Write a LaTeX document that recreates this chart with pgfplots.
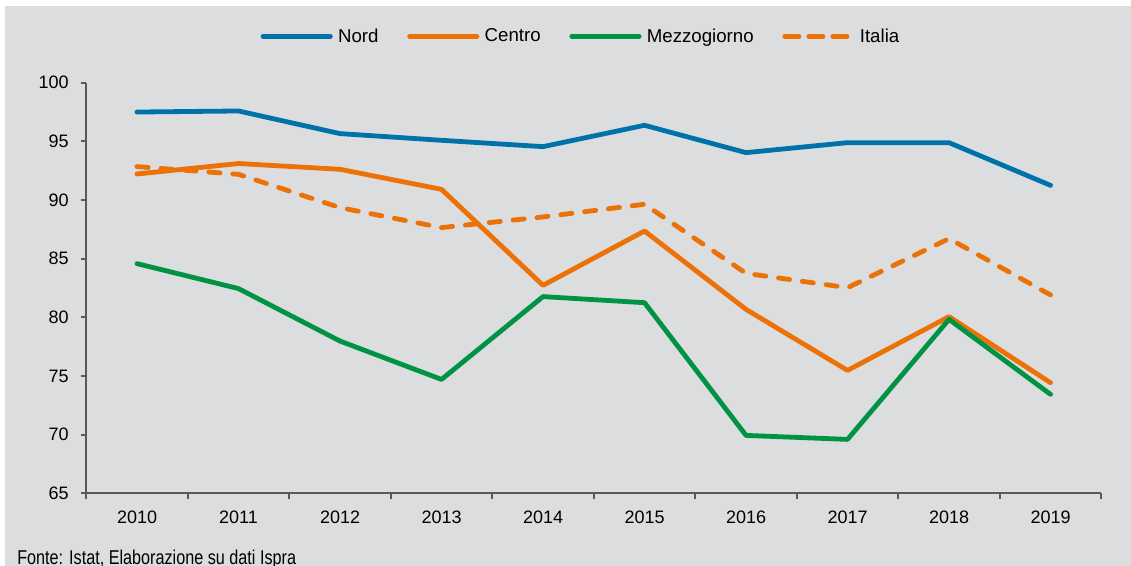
\documentclass[border=0pt]{standalone}
\usepackage{fontspec}
\setmainfont{Liberation Sans}
\newfontfamily\narrowfont[FakeStretch=0.81]{Liberation Sans}
\usepackage{pgfplots}
\pgfplotsset{compat=1.18}
\definecolor{bg}{RGB}{220,221,223}
\definecolor{nord}{RGB}{0,114,170}
\definecolor{centro}{RGB}{236,113,6}
\definecolor{mezzo}{RGB}{0,147,68}
\definecolor{axgray}{RGB}{89,89,89}
\begin{document}
\begin{tikzpicture}[x=0.75pt,y=0.75pt]
\path[use as bounding box] (0,0) rectangle (1131,566);
\fill[bg] (5,0) rectangle (1131,560);
\begin{axis}[
  at={(85,62)}, anchor=south west,
  scale only axis, width=761.25pt, height=308pt,
  xmin=-0.5, xmax=9.5, ymin=65, ymax=100,
  axis x line*=bottom, axis y line*=left,
  axis line style={-, axgray, line width=1.4pt},
  tick align=outside,
  ytick={65,70,...,100},
  xtick={0,...,9},
  xticklabels={2010,2011,2012,2013,2014,2015,2016,2017,2018,2019},
  minor xtick={-0.5,0.5,...,9.5},
  every major x tick/.append style={draw=none},
  major tick length=4pt, minor tick length=4pt,
  every tick/.append style={axgray, line width=1.4pt},
  ticklabel style={font=\fontsize{13.5}{16}\selectfont, text=black},
  /pgf/number format/assume math mode=true,
  yticklabel style={xshift=-5.75pt},
  xticklabel style={yshift=-5.5pt},
  clip=false,
  legend columns=4,
  legend style={at={(0.4877,1.1127)}, anchor=center, draw=none, fill=none,
    font=\fontsize{14}{16}\selectfont,
    /tikz/every even column/.append style={column sep=19.5pt}},
  legend image code/.code={\draw[#1] (0pt,0pt) -- (50.5pt,0pt); \path (52.5pt,0pt);},
]
\addplot[nord, line width=3.6pt, line cap=round, line join=round] coordinates {
(0,97.49) (1,97.58) (2,95.65) (3,95.08) (4,94.54) (5,96.36) (6,94.03) (7,94.88) (8,94.88) (9,91.24)};
\addlegendentry{Nord}
\addplot[centro, line width=3.6pt, line cap=round, line join=round] coordinates {
(0,92.21) (1,93.10) (2,92.61) (3,90.90) (4,82.72) (5,87.35) (6,80.67) (7,75.47) (8,80.05) (9,74.42)};
\addlegendentry{Centro}
\addplot[mezzo, line width=3.6pt, line cap=round, line join=round] coordinates {
(0,84.57) (1,82.44) (2,77.97) (3,74.70) (4,81.76) (5,81.24) (6,69.93) (7,69.59) (8,79.82) (9,73.43)};
\addlegendentry{Mezzogiorno}
\addplot[centro, line width=3.6pt, line cap=round, line join=round, dash pattern=on 8.4pt off 9.6pt, forget plot] coordinates {
(0,92.84) (1,92.18) (2,89.34) (3,87.64) (4,88.55) (5,89.63) (6,83.74) (7,82.52) (8,86.70) (9,81.90)};
\addlegendimage{centro, line width=3.6pt, line cap=round, dash pattern=on 10.65pt off 7.35pt}
\addlegendentry{Italia}
\end{axis}
\node[anchor=base west, inner sep=0pt, font=\narrowfont\fontsize{15}{17}\selectfont] at (17,1) {Fonte: Istat, Elaborazione su dati Ispra};
\end{tikzpicture}
\end{document}
